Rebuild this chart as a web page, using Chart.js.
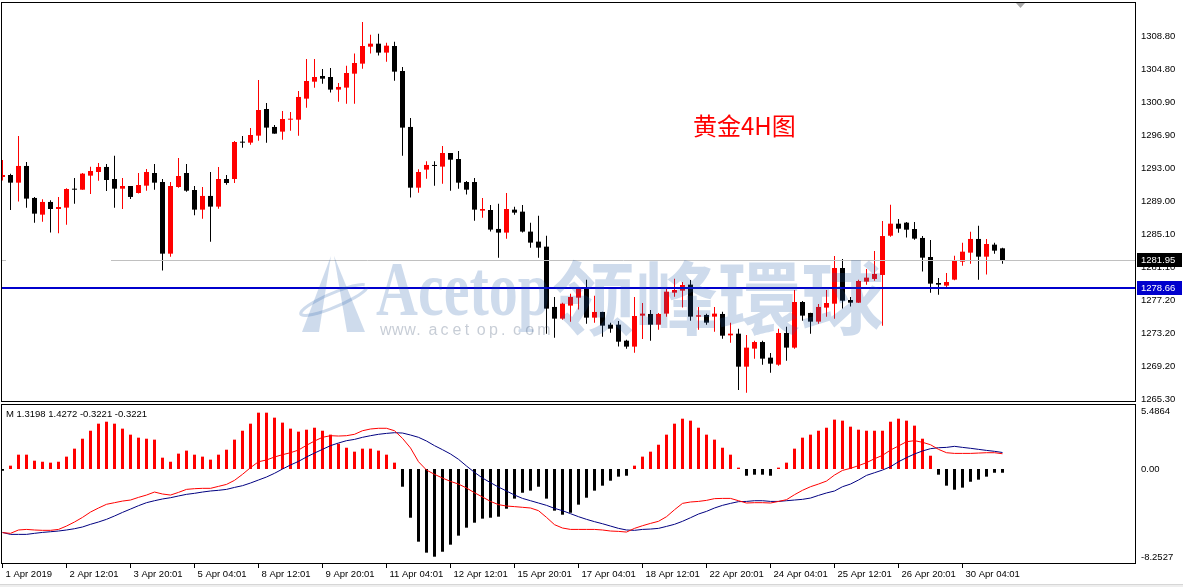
<!DOCTYPE html>
<html><head><meta charset="utf-8">
<script src="https://cdn.jsdelivr.net/npm/chart.js@4.4.1/dist/chart.umd.min.js"></script>
<style>
html,body{margin:0;padding:0;background:#fff;overflow:hidden;}
#wrap{position:relative;width:1183px;height:587px;background:#fff;}
#c1{position:absolute;left:0;top:0;width:1183px;height:403px;}
#c2{position:absolute;left:0;top:403px;width:1183px;height:184px;}
#strip{position:absolute;left:0;top:584px;width:1183px;height:3px;background:#eeeeee;border-top:1px solid #d6d6d6;}
</style></head><body>
<div id="wrap">
<canvas id="c1" width="1183" height="403"></canvas>
<canvas id="c2" width="1183" height="184"></canvas>
<div id="strip"></div>
</div>
<script>
// ---------------- DATA ----------------
const xLabels = ["1 Apr 2019","2 Apr 12:01","3 Apr 20:01","5 Apr 04:01","8 Apr 12:01","9 Apr 20:01","11 Apr 04:01","12 Apr 12:01","15 Apr 20:01","17 Apr 04:01","18 Apr 12:01","22 Apr 20:01","24 Apr 04:01","25 Apr 12:01","26 Apr 20:01","30 Apr 04:01"];
const labelStep = 8;
const priceTicks = [1308.8,1304.8,1300.9,1296.9,1293.0,1289.0,1285.1,1281.1,1277.2,1273.2,1269.2,1265.3];
const priceMin = 1264.98, priceMax = 1312.87;
const macdTickLabels = ["5.4864","0.00","-8.2527"];
const macdMin = -8.21, macdMax = 5.62;
const bidPrice = 1281.95;
const levelPrice = 1278.66;
const macdHeader = "M 1.3198 1.4272 -0.3221 -0.3221";
const chartTitle = "黄金4H图";

const opens = [1291.92,1292.16,1291.24,1293.24,1289.41,1287.41,1288.93,1288.09,1288.25,1290.48,
1290.40,1292.08,1292.52,1293.12,1291.68,1290.52,1290.84,1290.00,1290.88,1292.40,
1291.32,1282.74,1290.72,1292.40,1290.36,1288.01,1289.65,1288.37,1291.68,1291.68,
1296.11,1296.03,1296.87,1300.06,1297.91,1297.35,1298.78,1298.78,1301.30,1303.33,
1304.01,1303.89,1302.38,1302.62,1304.29,1305.49,1307.52,1307.88,1306.81,1307.60,
1304.61,1297.91,1290.64,1292.80,1293.36,1293.16,1294.79,1294.07,1291.32,1291.32,
1287.89,1287.97,1285.70,1285.26,1288.01,1287.77,1285.38,1284.18,1283.58,1276.36,
1274.96,1276.52,1277.47,1278.51,1275.08,1275.76,1274.24,1274.24,1272.32,1271.61,
1275.32,1275.52,1274.24,1275.56,1278.07,1278.31,1279.03,1275.20,1275.40,1275.20,
1275.52,1272.96,1273.16,1269.21,1271.37,1272.16,1270.29,1269.45,1273.24,1271.49,
1276.95,1275.64,1274.60,1276.28,1276.75,1281.02,1277.19,1276.87,1279.39,1279.71,
1280.19,1284.89,1286.33,1286.45,1285.69,1284.62,1282.34,1279.23,1278.91,1279.63,
1281.78,1282.86,1284.50,1282.38,1283.82,1283.38];
const closes = [1292.16,1291.24,1293.24,1289.33,1287.53,1288.93,1288.09,1288.33,1290.48,1290.40,
1292.32,1292.64,1293.12,1291.56,1290.52,1290.84,1289.53,1290.96,1292.52,1291.24,
1282.74,1290.84,1292.04,1290.28,1288.01,1289.65,1288.37,1291.68,1291.20,1296.11,
1296.03,1296.95,1299.94,1297.83,1297.11,1298.86,1298.90,1301.50,1303.41,1303.89,
1303.69,1302.38,1302.70,1304.37,1305.57,1307.60,1307.88,1306.81,1307.64,1304.53,
1297.83,1290.64,1292.52,1293.36,1293.24,1294.79,1293.99,1291.24,1290.40,1288.01,
1288.09,1285.62,1285.26,1288.09,1287.65,1285.38,1284.06,1283.46,1276.16,1274.96,
1276.75,1277.55,1278.55,1275.08,1275.76,1274.12,1273.76,1272.20,1271.61,1275.28,
1275.56,1274.24,1275.52,1278.19,1278.39,1278.99,1275.20,1275.36,1274.48,1275.56,
1272.92,1273.16,1269.21,1271.49,1272.16,1270.17,1269.57,1273.24,1271.49,1276.95,
1275.32,1274.60,1276.36,1276.83,1281.02,1277.11,1276.87,1279.47,1279.87,1280.31,
1284.85,1286.33,1285.73,1285.61,1284.54,1282.26,1279.15,1279.03,1279.35,1281.90,
1282.98,1284.50,1282.38,1283.90,1283.10,1281.95];
const highs = [1293.95,1292.30,1296.83,1293.72,1289.53,1289.25,1289.13,1289.53,1290.56,1291.80,
1292.40,1293.16,1293.60,1293.48,1294.47,1291.80,1290.84,1292.40,1292.88,1293.48,
1291.68,1291.32,1294.19,1293.48,1290.84,1290.72,1292.52,1293.12,1292.16,1296.23,
1296.83,1297.79,1303.53,1300.78,1298.15,1299.82,1299.70,1302.22,1306.05,1306.05,
1304.85,1304.97,1303.17,1305.25,1306.69,1310.48,1308.96,1309.08,1308.00,1308.12,
1305.09,1298.98,1292.84,1293.80,1293.80,1295.63,1294.79,1295.03,1291.44,1291.80,
1289.41,1288.57,1288.73,1290.00,1288.37,1288.57,1286.45,1287.29,1284.89,1277.55,
1276.87,1277.95,1278.67,1279.63,1277.71,1275.80,1274.48,1274.68,1272.44,1277.55,
1276.83,1275.99,1275.64,1278.67,1279.75,1279.35,1279.59,1276.36,1275.56,1276.36,
1275.80,1274.48,1273.76,1273.00,1272.32,1272.32,1270.85,1273.76,1274.00,1278.39,
1277.07,1275.68,1276.72,1278.39,1282.46,1282.10,1277.55,1279.63,1280.90,1283.06,
1286.65,1288.61,1286.89,1286.53,1286.53,1284.85,1284.38,1279.83,1280.43,1282.50,
1284.06,1285.37,1286.09,1284.50,1284.06,1283.46];
const lows = [1291.50,1287.97,1288.97,1288.25,1286.45,1286.57,1285.26,1285.18,1286.21,1288.73,
1290.40,1289.89,1291.48,1290.24,1288.25,1288.09,1289.29,1289.93,1290.28,1290.40,
1280.71,1282.38,1290.64,1290.16,1287.33,1286.93,1284.18,1288.13,1291.00,1291.20,
1295.43,1295.79,1296.27,1296.03,1297.11,1296.39,1297.47,1296.87,1300.22,1302.61,
1303.09,1302.02,1300.94,1300.70,1300.70,1304.89,1306.69,1306.45,1305.73,1303.45,
1294.47,1289.45,1290.04,1291.72,1290.88,1291.12,1290.28,1290.52,1289.81,1286.69,
1287.05,1285.38,1282.26,1284.54,1287.41,1285.26,1283.46,1282.26,1273.16,1272.68,
1274.84,1274.60,1276.04,1274.36,1274.48,1272.80,1273.28,1271.61,1271.37,1270.89,
1272.52,1272.32,1273.64,1275.20,1277.59,1276.28,1274.72,1273.64,1274.24,1273.40,
1272.56,1272.08,1266.42,1266.10,1270.17,1269.45,1268.49,1269.33,1269.93,1271.37,
1274.72,1273.16,1274.36,1275.20,1274.96,1276.16,1276.40,1276.83,1279.03,1279.51,
1274.12,1284.77,1285.25,1284.66,1284.42,1280.59,1278.07,1277.83,1278.55,1279.55,
1281.30,1281.54,1279.63,1280.23,1282.74,1281.54];
const macdHist = [-0.15,0.29,1.24,1.24,0.72,0.63,0.55,0.63,1.07,1.76,
2.62,3.31,3.92,4.09,3.92,3.49,2.97,2.71,2.62,2.54,
0.98,0.63,1.33,1.59,1.24,1.07,0.81,1.24,1.67,2.54,
3.31,3.92,4.87,4.87,4.44,4.01,3.49,3.23,3.40,3.57,
3.31,2.97,2.19,1.84,1.50,1.76,1.76,1.59,1.24,0.55,
-1.53,-4.21,-6.28,-7.23,-7.58,-7.15,-6.54,-5.76,-5.07,-4.64,
-4.29,-4.21,-4.12,-3.43,-2.56,-2.05,-1.87,-1.53,-2.56,-3.60,
-3.95,-3.78,-3.08,-2.48,-1.87,-1.44,-1.01,-0.66,-0.58,0.29,
1.07,1.50,2.10,2.97,3.92,4.35,4.18,3.57,2.97,2.54,
1.84,1.24,0.12,-0.58,-0.49,-0.49,-0.58,0.12,0.55,1.76,
2.71,2.97,3.31,3.57,4.27,4.18,3.66,3.40,3.31,3.31,
3.31,4.09,4.35,4.18,3.75,2.62,1.15,-0.49,-1.44,-1.79,
-1.61,-1.10,-0.92,-0.66,-0.3221,-0.3221];
const macdRed = [-5.50,-5.56,-5.27,-5.22,-5.27,-5.30,-5.30,-5.22,-4.93,-4.58,
-4.18,-3.72,-3.37,-3.05,-2.91,-2.77,-2.68,-2.45,-2.25,-1.99,
-2.16,-2.25,-2.02,-1.76,-1.70,-1.67,-1.67,-1.50,-1.33,-0.98,
-0.46,0.12,0.63,0.78,1.04,1.24,1.41,1.64,2.05,2.42,
2.74,2.88,2.85,2.88,3.00,3.31,3.46,3.52,3.52,3.31,
2.65,1.82,0.63,-0.09,-0.46,-0.78,-1.07,-1.30,-1.64,-2.05,
-2.42,-2.80,-3.08,-3.20,-3.25,-3.31,-3.37,-3.60,-4.18,-4.81,
-5.10,-5.22,-5.22,-5.22,-5.22,-5.27,-5.36,-5.39,-5.45,-5.13,
-4.90,-4.70,-4.52,-4.12,-3.52,-2.97,-2.85,-2.80,-2.71,-2.56,
-2.54,-2.54,-2.74,-2.94,-2.91,-2.91,-2.94,-2.80,-2.65,-2.22,
-1.84,-1.53,-1.30,-1.04,-0.52,-0.12,0.06,0.29,0.55,0.89,
1.18,1.64,1.99,2.36,2.45,2.31,2.10,1.70,1.41,1.35,
1.35,1.35,1.38,1.41,1.41,1.3198];
const macdNavy = [-5.48,-5.65,-5.65,-5.65,-5.56,-5.48,-5.42,-5.36,-5.27,-5.16,
-5.01,-4.78,-4.58,-4.35,-4.06,-3.75,-3.46,-3.17,-2.91,-2.74,
-2.59,-2.48,-2.33,-2.19,-2.10,-1.99,-1.90,-1.84,-1.76,-1.59,
-1.44,-1.21,-0.95,-0.69,-0.37,0.00,0.35,0.66,1.04,1.38,
1.70,2.02,2.25,2.45,2.56,2.74,2.88,3.00,3.08,3.14,
3.11,2.94,2.74,2.42,2.02,1.67,1.30,0.84,0.26,-0.29,
-0.78,-1.18,-1.56,-1.90,-2.25,-2.54,-2.74,-2.94,-3.14,-3.40,
-3.60,-3.86,-4.12,-4.35,-4.55,-4.73,-4.93,-5.13,-5.27,-5.30,
-5.22,-5.19,-5.13,-4.96,-4.78,-4.52,-4.21,-3.89,-3.66,-3.37,
-3.14,-2.97,-2.82,-2.80,-2.74,-2.74,-2.80,-2.80,-2.74,-2.68,
-2.62,-2.51,-2.28,-2.07,-1.90,-1.53,-1.30,-0.95,-0.55,-0.32,
-0.09,0.20,0.63,0.98,1.30,1.56,1.76,1.84,1.87,1.96,
1.87,1.79,1.70,1.61,1.53,1.4272];

// ---------------- SETUP ----------------
const FONT = "'Liberation Sans', Arial, sans-serif";
const RED = '#ff0000', BLACK = '#000000', NAVY = '#000080', LEVELBLUE = '#0000cd';
const XMIN = -0.1875, XMAX = XMIN + 1135 / 8;
const idx = closes.map((_, i) => i);
const candleColor = i => closes[i] > opens[i] ? RED : BLACK;

const framePlugin = {
  id: 'frame',
  afterDraw(chart) {
    const { ctx, chartArea: a } = chart;
    ctx.save();
    ctx.strokeStyle = '#000'; ctx.lineWidth = 1;
    ctx.strokeRect(a.left + 0.5, a.top + 0.5, a.right - a.left - 1, a.bottom - a.top - 1);
    ctx.restore();
  }
};

function drawWatermark(ctx) {
  ctx.save();
  const wm = 'rgba(30,90,170,0.22)';
  ctx.fillStyle = wm; ctx.strokeStyle = wm;
  ctx.beginPath(); ctx.moveTo(302, 332); ctx.lineTo(319, 332); ctx.lineTo(331, 256); ctx.closePath(); ctx.fill();
  ctx.beginPath(); ctx.moveTo(334, 256); ctx.lineTo(347, 332); ctx.lineTo(365, 332); ctx.closePath(); ctx.fill();
  ctx.lineWidth = 3;
  ctx.beginPath(); ctx.ellipse(334, 300, 36, 7, -0.4, 0.2, Math.PI * 1.9); ctx.stroke();
  ctx.textBaseline = 'alphabetic'; ctx.textAlign = 'left';
  ctx.font = "bold 78px 'Liberation Serif', serif";
  let w = ctx.measureText('Acetop').width;
  ctx.save(); ctx.translate(376, 315); ctx.scale(174 / w, 1); ctx.fillText('Acetop', 0, 0); ctx.restore();
  ctx.font = "bold 80px 'Noto Sans CJK TC', 'Noto Sans CJK SC', sans-serif";
  w = ctx.measureText('领峰環球').width;
  ctx.save(); ctx.translate(552, 328); ctx.scale(332 / w, 1); ctx.fillText('领峰環球', 0, 0); ctx.restore();
  ctx.fillStyle = 'rgba(70,90,120,0.30)';
  ctx.font = "16px " + FONT;
  const url = 'www.acetop.com';
  for (let i = 0; i < url.length; i++) ctx.fillText(url[i], 380 + i * 12.1, 335);
  ctx.restore();
}

const mainOverlay = {
  id: 'mainOverlay',
  afterDatasetsDraw(chart) {
    const { ctx, chartArea: a, scales } = chart;
    const y = scales.y;
    ctx.save();
    ctx.beginPath(); ctx.rect(a.left, a.top, a.right - a.left, a.bottom - a.top); ctx.clip();
    const yb = Math.round(y.getPixelForValue(bidPrice)) + 0.5;
    ctx.strokeStyle = '#c0c0c0'; ctx.lineWidth = 1;
    ctx.beginPath(); ctx.moveTo(a.left, yb); ctx.lineTo(a.left + 5, yb);
    ctx.moveTo(a.left + 110, yb); ctx.lineTo(a.right, yb); ctx.stroke();
    const yl = Math.round(y.getPixelForValue(levelPrice));
    ctx.strokeStyle = LEVELBLUE; ctx.lineWidth = 2;
    ctx.beginPath(); ctx.moveTo(a.left, yl); ctx.lineTo(a.right, yl); ctx.stroke();
    drawWatermark(ctx);
    ctx.fillStyle = RED;
    ctx.font = "24px 'Noto Sans CJK SC', sans-serif";
    ctx.textBaseline = 'middle'; ctx.textAlign = 'left';
    ctx.fillText(chartTitle, 693, 126);
    ctx.restore();
  },
  afterDraw(chart) {
    const { ctx, chartArea: a, scales } = chart;
    const y = scales.y;
    ctx.save();
    ctx.font = "9.5px " + FONT;
    ctx.textBaseline = 'middle'; ctx.textAlign = 'left';
    [[bidPrice, '#000000'], [levelPrice, LEVELBLUE]].forEach(([v, c]) => {
      const py = Math.round(y.getPixelForValue(v));
      ctx.fillStyle = c;
      ctx.fillRect(a.right + 1, py - 7, 45, 14);
      ctx.fillStyle = '#ffffff';
      ctx.fillText(v.toFixed(2), a.right + 5, py + 0.5);
    });
    ctx.fillStyle = '#a8a8a8';
    ctx.beginPath(); ctx.moveTo(1016, 3); ctx.lineTo(1025, 3); ctx.lineTo(1020.5, 8); ctx.closePath(); ctx.fill();
    ctx.restore();
  }
};

new Chart(document.getElementById('c1'), {
  type: 'bar',
  data: {
    datasets: [
      { label: 'wick', data: idx.map(i => ({ x: i, y: [lows[i], highs[i]] })),
        backgroundColor: c => candleColor(c.dataIndex), barThickness: 1, grouped: false,
        borderWidth: 0, inflateAmount: 0, order: 2 },
      { label: 'body', data: idx.map(i => ({ x: i, y: [opens[i], closes[i]] })),
        backgroundColor: c => candleColor(c.dataIndex), barThickness: 5, minBarLength: 1, grouped: false,
        borderWidth: 0, inflateAmount: 0, order: 1 }
    ]
  },
  options: {
    responsive: false, animation: false, devicePixelRatio: 1,
    layout: { padding: { left: 1, top: 2, right: 0, bottom: 1 } },
    plugins: { legend: { display: false }, tooltip: { enabled: false } },
    scales: {
      x: { type: 'linear', display: false, min: XMIN, max: XMAX, offset: false },
      y: {
        position: 'right', min: priceMin, max: priceMax,
        afterBuildTicks: s => { s.ticks = priceTicks.map(v => ({ value: v })); },
        afterFit: s => { s.width = 47; s.paddingTop = 0; s.paddingBottom = 0; },
        ticks: { callback: v => Number(v).toFixed(2), font: { family: FONT, size: 9.5 }, color: '#000', padding: 5 },
        grid: { display: false, drawTicks: false }, border: { display: false }
      }
    }
  },
  plugins: [framePlugin, mainOverlay]
});

const macdOverlay = {
  id: 'macdOverlay',
  afterDraw(chart) {
    const { ctx, chartArea: a } = chart;
    ctx.save();
    ctx.fillStyle = '#000';
    ctx.font = "9.5px " + FONT;
    ctx.textBaseline = 'middle'; ctx.textAlign = 'left';
    ctx.fillText(macdHeader, a.left + 5, a.top + 10);
    ctx.restore();
  }
};

new Chart(document.getElementById('c2'), {
  type: 'bar',
  data: {
    datasets: [
      { type: 'line', label: 'signal', data: idx.map(i => ({ x: i, y: macdNavy[i] })),
        borderColor: NAVY, borderWidth: 1, pointRadius: 0, tension: 0, order: 1 },
      { type: 'line', label: 'macd', data: idx.map(i => ({ x: i, y: macdRed[i] })),
        borderColor: RED, borderWidth: 1, pointRadius: 0, tension: 0, order: 0 },
      { label: 'hist', data: idx.map(i => ({ x: i, y: macdHist[i] })),
        backgroundColor: c => (macdHist[c.dataIndex] >= 0 ? RED : BLACK), barThickness: 3, grouped: false,
        borderWidth: 0, inflateAmount: 0, order: 3 }
    ]
  },
  options: {
    responsive: false, animation: false, devicePixelRatio: 1,
    layout: { padding: { left: 1, top: 1, right: 0, bottom: 0 } },
    plugins: { legend: { display: false }, tooltip: { enabled: false } },
    scales: {
      x: {
        type: 'linear', min: XMIN, max: XMAX, offset: false,
        afterBuildTicks: s => { s.ticks = xLabels.map((_, i) => ({ value: i * labelStep })); },
        afterFit: s => { s.height = 23; s.paddingLeft = 0; s.paddingRight = 0; },
        ticks: { callback: (v, i) => xLabels[i], autoSkip: false, maxRotation: 0, minRotation: 0,
                 align: 'start', labelOffset: 3, padding: 1, font: { family: FONT, size: 9.5 }, color: '#000' },
        grid: { drawOnChartArea: false, drawTicks: true, tickLength: 4, color: '#000', offset: false },
        border: { display: false }
      },
      y: {
        position: 'right', min: macdMin, max: macdMax,
        afterBuildTicks: s => { s.ticks = [{ value: macdMax - 0.6 }, { value: 0 }, { value: macdMin + 0.6 }]; },
        afterFit: s => { s.width = 47; s.paddingTop = 0; s.paddingBottom = 0; },
        ticks: { callback: (v, i) => macdTickLabels[i], font: { family: FONT, size: 9.5 }, color: '#000', padding: 5 },
        grid: { display: false, drawTicks: false }, border: { display: false }
      }
    }
  },
  plugins: [framePlugin, macdOverlay]
});
</script>
</body></html>
